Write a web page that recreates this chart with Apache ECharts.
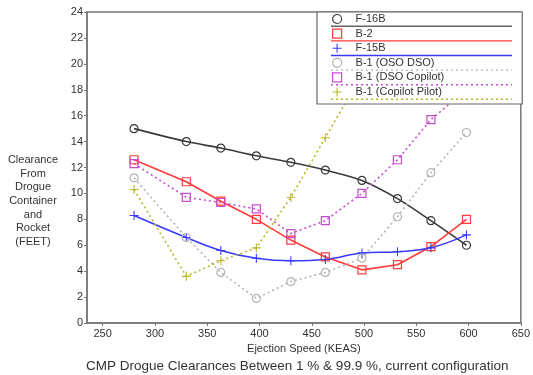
<!DOCTYPE html>
<html>
<head>
<meta charset="utf-8">
<script src="https://cdn.jsdelivr.net/npm/echarts@6/dist/echarts.min.js"></script>
<style>
  html, body {margin: 0; padding: 0; background: #fff;}
  #chart {width: 533px; height: 375px;}
</style>
</head>
<body>
<div id="chart"></div>
<script>
// ejection speed (KEAS) for every sample
const speeds = [280, 330, 363, 397, 430, 463, 498, 532, 564, 598];
const xTicks = [250, 300, 350, 400, 450, 500, 550, 600, 650];

const f16b = [15.0, 14.0, 13.5, 12.9, 12.4, 11.8, 11.0, 9.6, 7.9, 6.0];
const b2 = [12.6, 10.9, 9.4, 8.0, 6.4, 5.1, 4.1, 4.5, 5.9, 8.0];
const f15b = [8.3, 6.6, 5.6, 5.0, 4.8, 4.9, 5.4, 5.5, 5.8, 6.8];
const b1OsoDso = [11.2, 6.6, 3.9, 1.9, 3.2, 3.9, 5.0, 8.2, 11.6, 14.7];
const b1DsoCopilot = [12.3, 9.7, 9.3, 8.8, 6.9, 7.9, 10.0, 12.6, 15.7, 18.0];
const b1CopilotPilot = [10.3, 3.6, 4.8, 5.8, 9.7, 14.3, 19.2];

const font = 'Liberation Sans';
const plus = 'path://M4.4,0h1.2v10h-1.2z M0,4.4h10v1.2h-10z';

const seriesDefs = [
    {name: 'F-16B', data: f16b, color: '#3a3a3a', symbol: 'circle', type: 'solid', smooth: 0.3, legendLine: '#666'},
    {name: 'B-2', data: b2, color: '#ff3b3b', symbol: 'rect', type: 'solid', smooth: false},
    {name: 'F-15B', data: f15b, color: '#3a3aff', symbol: plus, type: 'solid', smooth: 0.4},
    {name: 'B-1 (OSO DSO)', data: b1OsoDso, color: '#b4b4b4', symbol: 'circle', type: 'dotted', smooth: false},
    {name: 'B-1 (DSO Copilot)', data: b1DsoCopilot, color: '#c74ccf', symbol: 'rect', type: 'dotted', smooth: false},
    {name: 'B-1 (Copilot Pilot)', data: b1CopilotPilot, color: '#b8b82a', symbol: plus, type: 'dotted', smooth: false}
];

const pair = (arr) => arr.map((v, i) => [speeds[i], v]);

const series = seriesDefs.map(d => {
    const hollow = d.symbol !== plus;
    return {
        name: d.name,
        type: 'line',
        data: pair(d.data),
        smooth: d.smooth,
        symbol: d.symbol,
        symbolSize: hollow ? 8 : 9,
        showSymbol: true,
        lineStyle: {color: d.color, width: 1.6, type: d.type === 'solid' ? 'solid' : [2, 3]},
        itemStyle: hollow
            ? {color: 'rgba(0,0,0,0)', borderColor: d.color, borderWidth: 1.2}
            : {color: d.color, borderWidth: 0},
        emphasis: {disabled: true},
        z: 2
    };
});

// lines drawn under each legend row
const legendLines = seriesDefs.map((d, i) => ({
    type: 'line',
    shape: {x1: 331, y1: 26.3 + i * 14.6, x2: 512, y2: 26.3 + i * 14.6},
    style: {stroke: d.legendLine || d.color, lineWidth: 1.4, lineDash: d.type === 'solid' ? null : [2, 3]},
    z: 110
}));

// y axis caption, stacked to the left of the axis
const yCaption = {
    type: 'text',
    z: 110,
    style: {
        text: 'Clearance\nFrom\nDrogue\nContainer\nand\nRocket\n(FEET)',
        x: 33,
        y: 201,
        textAlign: 'center',
        textVerticalAlign: 'middle',
        font: '11px "Liberation Sans"',
        lineHeight: 13.7,
        fill: '#333'
    }
};

const myChart = echarts.init(document.getElementById('chart'));
myChart.setOption({
    animation: false,
    textStyle: {fontFamily: font, color: '#333'},
    title: {
        text: 'CMP Drogue Clearances Between 1 % & 99.9 %, current configuration',
        left: 86,
        top: 359,
        padding: 0,
        textStyle: {fontFamily: font, fontSize: 13.5, fontWeight: 'normal', color: '#333'}
    },
    grid: {left: 87, right: 10, top: 12, bottom: 52, show: true, borderColor: '#777', borderWidth: 1.5},
    legend: {
        orient: 'vertical',
        left: 317,
        top: 12,
        z: 10,
        padding: [1, 78, 6, 15],
        itemWidth: 9,
        itemHeight: 9,
        itemGap: 2.6,
        backgroundColor: '#fff',
        borderColor: '#666',
        borderWidth: 1.2,
        itemStyle: {borderWidth: 1.2},
        textStyle: {fontFamily: font, fontSize: 11, color: '#333', lineHeight: 12, padding: [0, 0, 0, 9]},
        data: seriesDefs.map(d => ({name: d.name, icon: d.symbol})),
        selectedMode: false
    },
    xAxis: {
        type: 'value',
        min: 235,
        max: 650,
        name: 'Ejection Speed (KEAS)',
        nameLocation: 'middle',
        nameGap: 20,
        nameTextStyle: {fontFamily: font, fontSize: 11, color: '#333'},
        axisLine: {show: true, lineStyle: {color: '#777', width: 1.5}},
        axisTick: {show: true, length: 3, customValues: xTicks, lineStyle: {color: '#777'}},
        axisLabel: {fontSize: 11, color: '#333', margin: 5, customValues: xTicks},
        splitLine: {show: false}
    },
    yAxis: {
        type: 'value',
        min: 0,
        max: 24,
        interval: 2,
        axisLine: {show: true, lineStyle: {color: '#777', width: 1.5}},
        axisTick: {show: true, length: 3, lineStyle: {color: '#777'}},
        axisLabel: {fontSize: 11, color: '#333', margin: 4},
        splitLine: {show: false}
    },
    graphic: legendLines.concat([yCaption]),
    series: series
});
</script>
</body>
</html>
